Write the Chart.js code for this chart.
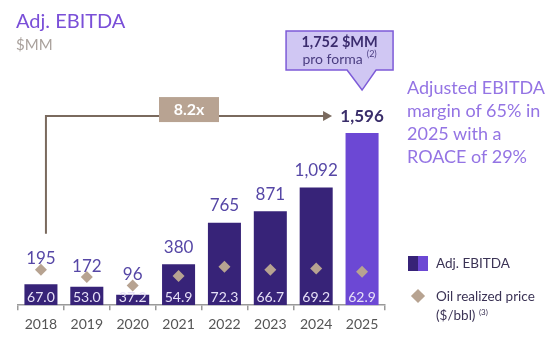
<!DOCTYPE html>
<html>
<head>
<meta charset="utf-8">
<script src="https://cdn.jsdelivr.net/npm/chart.js@4.4.1/dist/chart.umd.min.js"></script>
<style>
  body { margin: 0; background: #fff; font-family: Lato, "Noto Sans", sans-serif; }
  #wrap { position: relative; width: 560px; height: 350px; overflow: hidden; }
  #wrap canvas { position: absolute; left: 0; top: 0; }
  .title { position: absolute; left: 16px; top: 8px; font-size: 20px; color: #7a4fd8; line-height: 24px; }
  .unit { position: absolute; left: 16px; top: 35px; font-size: 15px; color: #a9a19c; line-height: 18px; }
  .note { position: absolute; left: 407px; top: 76px; font-size: 18px; line-height: 23px; color: #9474e4; }
  .leg { position: absolute; font-size: 13.5px; color: #3b3355; line-height: 16px; }
  .leg sup { font-size: 8px; vertical-align: 5px; }
  .sq { position: absolute; left: 408px; top: 256px; width: 20px; height: 15px;
        background: linear-gradient(to right, #372378 50%, #6c48d4 50%); }
  .dia { position: absolute; left: 413px; top: 291px; width: 10px; height: 10px;
         background: #b7a391; transform: rotate(45deg); }
</style>
</head>
<body>
<div id="wrap">
  <canvas id="ebitdaChart" width="560" height="350"></canvas>
  <div class="title">Adj. EBITDA</div>
  <div class="unit">$MM</div>
  <div class="note">Adjusted EBITDA<br>margin of 65% in<br>2025 with a<br>ROACE of 29%</div>
  <div class="sq"></div>
  <div class="leg" style="left:436px;top:255px;">Adj. EBITDA</div>
  <div class="dia"></div>
  <div class="leg" style="left:436px;top:288px;">Oil realized price<br>($/bbl) <sup>(3)</sup></div>
</div>
<script>
const years = ['2018', '2019', '2020', '2021', '2022', '2023', '2024', '2025'];
const ebitda = [195, 172, 96, 380, 765, 871, 1092, 1596];
const ebitdaLabels = ['195', '172', '96', '380', '765', '871', '1,092', '1,596'];
const oilPrice = [67.0, 53.0, 37.2, 54.9, 72.3, 66.7, 69.2, 62.9];
const growthLabel = '8.2x';
const proForma = ['1,752 $MM', 'pro forma'];

const barColors = years.map((y, i) => i === years.length - 1 ? '#6c48d4' : '#372378');

const labelsPlugin = {
  id: 'labels',
  afterDatasetsDraw(chart) {
    const ctx = chart.ctx;
    const bars = chart.getDatasetMeta(0).data;
    const dots = chart.getDatasetMeta(1).data;
    const last = bars.length - 1;
    ctx.save();
    ctx.textAlign = 'center';
    ctx.textBaseline = 'middle';
    let labelY = [];
    bars.forEach((bar, i) => {
      // value on top of bar (or above the diamond when bar is short)
      const y = Math.min(bar.y - 17, dots[i].y - 11);
      labelY.push(y);
      if (i === last) {
        ctx.font = 'bold 17px Lato';
        ctx.fillStyle = '#3a2e6a';
      } else {
        ctx.font = '17px Lato';
        ctx.fillStyle = '#5647a6';
      }
      ctx.fillText(ebitdaLabels[i], bar.x, y);
      // oil price inside bar
      ctx.font = '14px Lato';
      ctx.fillStyle = '#e6e0f7';
      ctx.fillText(oilPrice[i].toFixed(1), bar.x, chart.chartArea.bottom - 8);
    });

    // growth arrow
    const x0 = bars[0].x + 5;
    const yTop = labelY[last];
    const xEnd = bars[last].x - 30;
    ctx.strokeStyle = '#7a6a5e';
    ctx.fillStyle = '#7a6a5e';
    ctx.lineWidth = 2;
    ctx.beginPath();
    ctx.moveTo(x0, labelY[0] - 25);
    ctx.lineTo(x0, yTop);
    ctx.lineTo(xEnd - 8, yTop);
    ctx.stroke();
    ctx.beginPath();
    ctx.moveTo(xEnd, yTop);
    ctx.lineTo(xEnd - 9, yTop - 5);
    ctx.lineTo(xEnd - 9, yTop + 5);
    ctx.closePath();
    ctx.fill();

    const bx = (x0 + xEnd) / 2;
    ctx.fillStyle = '#b8a392';
    ctx.fillRect(bx - 30, yTop - 19, 60, 25);
    ctx.fillStyle = '#fff';
    ctx.font = 'bold 16px Lato';
    ctx.fillText(growthLabel, bx, yTop - 6.5);

    // pro forma callout
    const tipX = bars[last].x;
    const tipY = yTop - 26;
    const l = tipX - 76, r = tipX + 31, t = tipY - 59, b = tipY - 20;
    ctx.beginPath();
    ctx.moveTo(l, t);
    ctx.lineTo(r, t);
    ctx.lineTo(r, b);
    ctx.lineTo(tipX + 14, b);
    ctx.lineTo(tipX, tipY);
    ctx.lineTo(tipX - 15, b);
    ctx.lineTo(l, b);
    ctx.closePath();
    ctx.fillStyle = '#d0c7f3';
    ctx.fill();
    ctx.strokeStyle = '#7d5bd8';
    ctx.lineWidth = 1.5;
    ctx.stroke();
    const cx = (l + r) / 2;
    ctx.fillStyle = '#3b2c6e';
    ctx.font = 'bold 14.5px Lato';
    ctx.fillText(proForma[0], cx, t + 11);
    ctx.font = '14px Lato';
    ctx.fillStyle = '#4a3d80';
    const w = ctx.measureText(proForma[1]).width;
    ctx.textAlign = 'left';
    ctx.fillText(proForma[1], cx - w / 2 - 7, t + 28);
    ctx.font = '9px Lato';
    ctx.fillText('(2)', cx + w / 2 - 3, t + 23);
    ctx.restore();
  }
};

new Chart(document.getElementById('ebitdaChart').getContext('2d'), {
  type: 'bar',
  data: {
    labels: years,
    datasets: [{
      label: 'Adj. EBITDA',
      data: ebitda,
      backgroundColor: barColors,
      barPercentage: 0.72,
      categoryPercentage: 1,
      yAxisID: 'y',
      order: 2
    }, {
      type: 'line',
      label: 'Oil realized price ($/bbl)',
      data: oilPrice,
      showLine: false,
      pointStyle: 'rectRot',
      pointRadius: 6,
      pointHoverRadius: 6,
      pointBackgroundColor: '#b7a391',
      pointBorderWidth: 0,
      yAxisID: 'y2',
      order: 1
    }]
  },
  options: {
    responsive: false,
    animation: false,
    layout: { padding: { left: 18, right: 175, top: 14, bottom: 11 } },
    plugins: { legend: { display: false }, tooltip: { enabled: false } },
    scales: {
      x: {
        grid: { drawOnChartArea: false, drawTicks: true, tickLength: 5, color: '#9a9a9a', lineWidth: 1.5 },
        border: { color: '#9a9a9a', width: 1.5 },
        ticks: { color: '#555', font: { family: 'Lato', size: 14 }, padding: 6 }
      },
      y: { display: false, min: 0, max: 2700 },
      y2: { display: false, min: 0, max: 549 }
    }
  },
  plugins: [labelsPlugin]
});
</script>
</body>
</html>
